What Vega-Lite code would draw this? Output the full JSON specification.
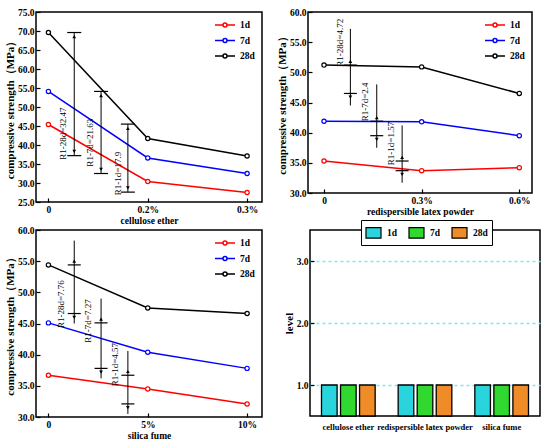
{
  "$schema": "https://vega.github.io/schema/vega-lite/v6.json",
  "background": "white",
  "padding": {"left": 3, "top": 0, "right": 4, "bottom": 0},
  "config": {
    "font": "'Liberation Serif', 'Times New Roman', serif",
    "view": {"stroke": "black", "strokeWidth": 1.5},
    "axis": {
      "labelFont": "'Liberation Serif', 'Times New Roman', serif", "labelFontWeight": "bold", "labelFontSize": 9.5, "labelColor": "black",
      "titleFont": "'Liberation Serif', 'Times New Roman', serif", "titleFontWeight": "bold", "titleFontSize": 9.5, "titleColor": "black",
      "domain": false, "tickColor": "black", "tickSize": -4, "tickWidth": 1.2, "grid": false, "labelPadding": 6, "titlePadding": 2
    },
    "axisY": {"titleFontSize": 11},
    "legend": {"labelFont": "'Liberation Serif', 'Times New Roman', serif", "labelFontWeight": "bold", "labelFontSize": 9.5, "labelColor": "black"}
  },
  "datasets": {
    "lines": [
      {"panel": "ce", "pos": 0, "dosage": "0", "age": "1d", "strength": 45.4},
      {"panel": "ce", "pos": 1, "dosage": "0.2%", "age": "1d", "strength": 30.4},
      {"panel": "ce", "pos": 2, "dosage": "0.3%", "age": "1d", "strength": 27.5},
      {"panel": "ce", "pos": 0, "dosage": "0", "age": "7d", "strength": 54.1},
      {"panel": "ce", "pos": 1, "dosage": "0.2%", "age": "7d", "strength": 36.6},
      {"panel": "ce", "pos": 2, "dosage": "0.3%", "age": "7d", "strength": 32.5},
      {"panel": "ce", "pos": 0, "dosage": "0", "age": "28d", "strength": 69.6},
      {"panel": "ce", "pos": 1, "dosage": "0.2%", "age": "28d", "strength": 41.7},
      {"panel": "ce", "pos": 2, "dosage": "0.3%", "age": "28d", "strength": 37.1},
      {"panel": "rlp", "pos": 0, "dosage": "0", "age": "1d", "strength": 35.3},
      {"panel": "rlp", "pos": 1, "dosage": "0.3%", "age": "1d", "strength": 33.7},
      {"panel": "rlp", "pos": 2, "dosage": "0.6%", "age": "1d", "strength": 34.2},
      {"panel": "rlp", "pos": 0, "dosage": "0", "age": "7d", "strength": 41.9},
      {"panel": "rlp", "pos": 1, "dosage": "0.3%", "age": "7d", "strength": 41.8},
      {"panel": "rlp", "pos": 2, "dosage": "0.6%", "age": "7d", "strength": 39.5},
      {"panel": "rlp", "pos": 0, "dosage": "0", "age": "28d", "strength": 51.2},
      {"panel": "rlp", "pos": 1, "dosage": "0.3%", "age": "28d", "strength": 50.9},
      {"panel": "rlp", "pos": 2, "dosage": "0.6%", "age": "28d", "strength": 46.5},
      {"panel": "sf", "pos": 0, "dosage": "0", "age": "1d", "strength": 36.7},
      {"panel": "sf", "pos": 1, "dosage": "5%", "age": "1d", "strength": 34.5},
      {"panel": "sf", "pos": 2, "dosage": "10%", "age": "1d", "strength": 32.1},
      {"panel": "sf", "pos": 0, "dosage": "0", "age": "7d", "strength": 45.1},
      {"panel": "sf", "pos": 1, "dosage": "5%", "age": "7d", "strength": 40.4},
      {"panel": "sf", "pos": 2, "dosage": "10%", "age": "7d", "strength": 37.8},
      {"panel": "sf", "pos": 0, "dosage": "0", "age": "28d", "strength": 54.4},
      {"panel": "sf", "pos": 1, "dosage": "5%", "age": "28d", "strength": 47.5},
      {"panel": "sf", "pos": 2, "dosage": "10%", "age": "28d", "strength": 46.6}
    ],
    "ranges": [
      {"panel": "ce", "pos": 0.26, "strength": 37.2, "hi": 69.6},
      {"panel": "ce", "pos": 0.53, "strength": 32.5, "hi": 54.1},
      {"panel": "ce", "pos": 0.8, "strength": 27.6, "hi": 45.5},
      {"panel": "rlp", "pos": 0.27, "strength": 44.5, "hi": 57.2},
      {"panel": "rlp", "pos": 0.54, "strength": 37.5, "hi": 48.0},
      {"panel": "rlp", "pos": 0.8, "strength": 31.7, "hi": 41.2},
      {"panel": "sf", "pos": 0.26, "strength": 45.0, "hi": 58.3},
      {"panel": "sf", "pos": 0.53, "strength": 36.2, "hi": 49.0},
      {"panel": "sf", "pos": 0.8, "strength": 30.5, "hi": 40.6}
    ],
    "caps": [
      {"panel": "ce", "pos": 0.26, "strength": 69.6},
      {"panel": "ce", "pos": 0.26, "strength": 37.2},
      {"panel": "ce", "pos": 0.53, "strength": 54.1},
      {"panel": "ce", "pos": 0.53, "strength": 32.5},
      {"panel": "ce", "pos": 0.8, "strength": 45.5},
      {"panel": "ce", "pos": 0.8, "strength": 27.6},
      {"panel": "rlp", "pos": 0.27, "strength": 51.2},
      {"panel": "rlp", "pos": 0.27, "strength": 46.5},
      {"panel": "rlp", "pos": 0.54, "strength": 41.9},
      {"panel": "rlp", "pos": 0.54, "strength": 39.5},
      {"panel": "rlp", "pos": 0.8, "strength": 35.3},
      {"panel": "rlp", "pos": 0.8, "strength": 33.7},
      {"panel": "sf", "pos": 0.26, "strength": 54.4},
      {"panel": "sf", "pos": 0.26, "strength": 46.6},
      {"panel": "sf", "pos": 0.53, "strength": 45.1},
      {"panel": "sf", "pos": 0.53, "strength": 37.8},
      {"panel": "sf", "pos": 0.8, "strength": 36.7},
      {"panel": "sf", "pos": 0.8, "strength": 32.1}
    ],
    "arrows": [
      {"panel": "ce", "pos": 0.26, "strength": 68.5, "dir": "up"},
      {"panel": "ce", "pos": 0.26, "strength": 38.3, "dir": "down"},
      {"panel": "ce", "pos": 0.53, "strength": 53.0, "dir": "up"},
      {"panel": "ce", "pos": 0.53, "strength": 33.6, "dir": "down"},
      {"panel": "ce", "pos": 0.8, "strength": 44.4, "dir": "up"},
      {"panel": "ce", "pos": 0.8, "strength": 28.7, "dir": "down"},
      {"panel": "rlp", "pos": 0.27, "strength": 51.8, "dir": "up"},
      {"panel": "rlp", "pos": 0.27, "strength": 45.9, "dir": "down"},
      {"panel": "rlp", "pos": 0.54, "strength": 42.5, "dir": "up"},
      {"panel": "rlp", "pos": 0.54, "strength": 38.9, "dir": "down"},
      {"panel": "rlp", "pos": 0.8, "strength": 35.9, "dir": "up"},
      {"panel": "rlp", "pos": 0.8, "strength": 33.1, "dir": "down"},
      {"panel": "sf", "pos": 0.26, "strength": 55.0, "dir": "up"},
      {"panel": "sf", "pos": 0.26, "strength": 46.0, "dir": "down"},
      {"panel": "sf", "pos": 0.53, "strength": 45.7, "dir": "up"},
      {"panel": "sf", "pos": 0.53, "strength": 37.2, "dir": "down"},
      {"panel": "sf", "pos": 0.8, "strength": 37.3, "dir": "up"},
      {"panel": "sf", "pos": 0.8, "strength": 31.5, "dir": "down"}
    ],
    "labels": [
      {"panel": "ce", "pos": 0.15, "strength": 43.0, "text": "R1-28d=32.47"},
      {"panel": "ce", "pos": 0.42, "strength": 40.6, "text": "R1-7d=21.63"},
      {"panel": "ce", "pos": 0.7, "strength": 32.5, "text": "R1-1d=17.9"},
      {"panel": "rlp", "pos": 0.16, "strength": 54.9, "text": "R1-28d=4.72"},
      {"panel": "rlp", "pos": 0.42, "strength": 45.1, "text": "R1-7d=2.4"},
      {"panel": "rlp", "pos": 0.69, "strength": 38.2, "text": "R1-1d=1.57"},
      {"panel": "sf", "pos": 0.13, "strength": 48.1, "text": "R1-28d=7.76"},
      {"panel": "sf", "pos": 0.4, "strength": 45.4, "text": "R1-7d=7.27"},
      {"panel": "sf", "pos": 0.67, "strength": 38.4, "text": "R1-1d=4.57"}
    ],
    "bars": [
      {"factor": "cellulose ether", "age": "1d", "level": 1},
      {"factor": "cellulose ether", "age": "7d", "level": 1},
      {"factor": "cellulose ether", "age": "28d", "level": 1},
      {"factor": "redispersible latex powder", "age": "1d", "level": 1},
      {"factor": "redispersible latex powder", "age": "7d", "level": 1},
      {"factor": "redispersible latex powder", "age": "28d", "level": 1},
      {"factor": "silica fume", "age": "1d", "level": 1},
      {"factor": "silica fume", "age": "7d", "level": 1},
      {"factor": "silica fume", "age": "28d", "level": 1}
    ]
  },
  "spacing": -8,
  "resolve": {"scale": {"color": "independent", "fill": "independent"}, "legend": {"color": "independent", "fill": "independent"}},
  "vconcat": [
    {
      "spacing": 12,
      "resolve": {"scale": {"color": "independent"}, "legend": {"color": "independent"}},
      "hconcat": [
        {
          "width": 226, "height": 190,
          "encoding": {
            "x": {"field": "pos", "type": "quantitative", "title": "cellulose ether", "scale": {"domain": [-0.125, 2.15], "nice": false}, "axis": {"values": [0, 1, 2], "labelExpr": "datum.value == 0 ? '0' : datum.value == 1 ? '0.2%' : '0.3%'"}},
            "y": {"field": "strength", "type": "quantitative", "title": "compressive strength（MPa）", "scale": {"domain": [25, 75], "nice": false}, "axis": {"values": [25, 30, 35, 40, 45, 50, 55, 60, 65, 70, 75], "format": ".1f"}}
          },
          "layer": [
            {
              "data": {"name": "lines"}, "transform": [{"filter": "datum.panel == 'ce'"}],
              "mark": {"type": "line", "strokeWidth": 1.5},
              "encoding": {
                "color": {"field": "age", "type": "nominal", "scale": {"domain": ["1d", "7d", "28d"], "range": ["#ff0000", "#0000ff", "#000000"]},
                  "legend": {"orient": "top-right", "offset": 7, "title": null, "symbolType": "M-2,0H-0.4M0.4,0H2M-0.4,0A0.4,0.4,0,1,1,0.4,0A0.4,0.4,0,1,1,-0.4,0", "symbolSize": 100, "symbolStrokeWidth": 1.5, "labelOffset": 9, "rowPadding": 4.5}}
              }
            },
            {
              "data": {"name": "lines"}, "transform": [{"filter": "datum.panel == 'ce'"}],
              "mark": {"type": "point", "shape": "circle", "filled": false, "fill": "white", "size": 18, "strokeWidth": 1.2, "opacity": 1},
              "encoding": {"color": {"field": "age", "type": "nominal", "legend": null}}
            },
            {
              "data": {"name": "ranges"}, "transform": [{"filter": "datum.panel == 'ce'"}],
              "mark": {"type": "rule", "color": "black", "strokeWidth": 1},
              "encoding": {"y2": {"field": "hi"}}
            },
            {
              "data": {"name": "caps"}, "transform": [{"filter": "datum.panel == 'ce'"}],
              "mark": {"type": "tick", "orient": "horizontal", "color": "black", "size": 14, "thickness": 1.2, "opacity": 1}
            },
            {
              "data": {"name": "arrows"}, "transform": [{"filter": "datum.panel == 'ce'"}],
              "mark": {"type": "point", "filled": true, "color": "black", "size": 14, "opacity": 1},
              "encoding": {"shape": {"field": "dir", "type": "nominal", "scale": {"domain": ["up", "down"], "range": ["triangle-up", "triangle-down"]}, "legend": null}}
            },
            {
              "data": {"name": "labels"}, "transform": [{"filter": "datum.panel == 'ce'"}],
              "mark": {"type": "text", "angle": 270, "fontSize": 9, "color": "black", "align": "center", "baseline": "middle"},
              "encoding": {"text": {"field": "text"}}
            }
          ]
        },
        {
          "width": 224, "height": 181,
          "title": {"text": " ", "fontSize": 6, "offset": 0},
          "encoding": {
            "x": {"field": "pos", "type": "quantitative", "title": "redispersible latex powder", "scale": {"domain": [-0.164, 2.13], "nice": false}, "axis": {"values": [0, 1, 2], "labelExpr": "datum.value == 0 ? '0' : datum.value == 1 ? '0.3%' : '0.6%'"}},
            "y": {"field": "strength", "type": "quantitative", "title": "compressive strength（MPa）", "scale": {"domain": [30, 60], "nice": false}, "axis": {"values": [30, 35, 40, 45, 50, 55, 60], "format": ".1f"}}
          },
          "layer": [
            {
              "data": {"name": "lines"}, "transform": [{"filter": "datum.panel == 'rlp'"}],
              "mark": {"type": "line", "strokeWidth": 1.5},
              "encoding": {
                "color": {"field": "age", "type": "nominal", "scale": {"domain": ["1d", "7d", "28d"], "range": ["#ff0000", "#0000ff", "#000000"]},
                  "legend": {"orient": "top-right", "offset": 7, "title": null, "symbolType": "M-2,0H-0.4M0.4,0H2M-0.4,0A0.4,0.4,0,1,1,0.4,0A0.4,0.4,0,1,1,-0.4,0", "symbolSize": 100, "symbolStrokeWidth": 1.5, "labelOffset": 9, "rowPadding": 4.5}}
              }
            },
            {
              "data": {"name": "lines"}, "transform": [{"filter": "datum.panel == 'rlp'"}],
              "mark": {"type": "point", "shape": "circle", "filled": false, "fill": "white", "size": 18, "strokeWidth": 1.2, "opacity": 1},
              "encoding": {"color": {"field": "age", "type": "nominal", "legend": null}}
            },
            {
              "data": {"name": "ranges"}, "transform": [{"filter": "datum.panel == 'rlp'"}],
              "mark": {"type": "rule", "color": "black", "strokeWidth": 1},
              "encoding": {"y2": {"field": "hi"}}
            },
            {
              "data": {"name": "caps"}, "transform": [{"filter": "datum.panel == 'rlp'"}],
              "mark": {"type": "tick", "orient": "horizontal", "color": "black", "size": 13, "thickness": 1.2, "opacity": 1}
            },
            {
              "data": {"name": "arrows"}, "transform": [{"filter": "datum.panel == 'rlp'"}],
              "mark": {"type": "point", "filled": true, "color": "black", "size": 14, "opacity": 1},
              "encoding": {"shape": {"field": "dir", "type": "nominal", "scale": {"domain": ["up", "down"], "range": ["triangle-up", "triangle-down"]}, "legend": null}}
            },
            {
              "data": {"name": "labels"}, "transform": [{"filter": "datum.panel == 'rlp'"}],
              "mark": {"type": "text", "angle": 270, "fontSize": 9, "color": "black", "align": "center", "baseline": "middle"},
              "encoding": {"text": {"field": "text"}}
            }
          ]
        }
      ]
    },
    {
      "spacing": 19,
      "resolve": {"scale": {"color": "independent", "fill": "independent"}, "legend": {"color": "independent", "fill": "independent"}},
      "hconcat": [
        {
          "width": 226, "height": 187,
          "encoding": {
            "x": {"field": "pos", "type": "quantitative", "title": "silica fume", "scale": {"domain": [-0.125, 2.15], "nice": false}, "axis": {"values": [0, 1, 2], "labelExpr": "datum.value == 0 ? '0' : datum.value == 1 ? '5%' : '10%'"}},
            "y": {"field": "strength", "type": "quantitative", "title": "compressive strength（MPa）", "scale": {"domain": [30, 60], "nice": false}, "axis": {"values": [30, 35, 40, 45, 50, 55, 60], "format": ".1f"}}
          },
          "layer": [
            {
              "data": {"name": "lines"}, "transform": [{"filter": "datum.panel == 'sf'"}],
              "mark": {"type": "line", "strokeWidth": 1.5},
              "encoding": {
                "color": {"field": "age", "type": "nominal", "scale": {"domain": ["1d", "7d", "28d"], "range": ["#ff0000", "#0000ff", "#000000"]},
                  "legend": {"orient": "top-right", "offset": 7, "title": null, "symbolType": "M-2,0H-0.4M0.4,0H2M-0.4,0A0.4,0.4,0,1,1,0.4,0A0.4,0.4,0,1,1,-0.4,0", "symbolSize": 100, "symbolStrokeWidth": 1.5, "labelOffset": 9, "rowPadding": 4.5}}
              }
            },
            {
              "data": {"name": "lines"}, "transform": [{"filter": "datum.panel == 'sf'"}],
              "mark": {"type": "point", "shape": "circle", "filled": false, "fill": "white", "size": 18, "strokeWidth": 1.2, "opacity": 1},
              "encoding": {"color": {"field": "age", "type": "nominal", "legend": null}}
            },
            {
              "data": {"name": "ranges"}, "transform": [{"filter": "datum.panel == 'sf'"}],
              "mark": {"type": "rule", "color": "black", "strokeWidth": 1},
              "encoding": {"y2": {"field": "hi"}}
            },
            {
              "data": {"name": "caps"}, "transform": [{"filter": "datum.panel == 'sf'"}],
              "mark": {"type": "tick", "orient": "horizontal", "color": "black", "size": 13, "thickness": 1.2, "opacity": 1}
            },
            {
              "data": {"name": "arrows"}, "transform": [{"filter": "datum.panel == 'sf'"}],
              "mark": {"type": "point", "filled": true, "color": "black", "size": 14, "opacity": 1},
              "encoding": {"shape": {"field": "dir", "type": "nominal", "scale": {"domain": ["up", "down"], "range": ["triangle-up", "triangle-down"]}, "legend": null}}
            },
            {
              "data": {"name": "labels"}, "transform": [{"filter": "datum.panel == 'sf'"}],
              "mark": {"type": "text", "angle": 270, "fontSize": 9, "color": "black", "align": "center", "baseline": "middle"},
              "encoding": {"text": {"field": "text"}}
            }
          ]
        },
        {
          "width": 230, "height": 186,
          "data": {"name": "bars"},
          "mark": {"type": "bar", "stroke": "black", "strokeWidth": 1.3},
          "encoding": {
            "x": {"field": "factor", "type": "nominal", "sort": ["cellulose ether", "redispersible latex powder", "silica fume"], "scale": {"paddingInner": 0.3, "paddingOuter": 0.15},
              "axis": {"title": null, "labelAngle": 0, "ticks": false, "labelPadding": 6, "labelOverlap": false, "labelLimit": 0, "labelFontSize": 8.5}},
            "xOffset": {"field": "age", "type": "nominal", "sort": ["1d", "7d", "28d"], "scale": {"paddingInner": 0.18, "paddingOuter": 0}},
            "y": {"field": "level", "type": "quantitative", "scale": {"domain": [0.5, 3.5], "nice": false, "zero": false},
              "axis": {"values": [1, 2, 3], "format": ".1f", "title": "level", "grid": true, "gridColor": "#7ee8f2", "gridDash": [3, 3], "gridWidth": 1.5}},
            "y2": {"datum": 0.5},
            "fill": {"field": "age", "type": "nominal", "scale": {"domain": ["1d", "7d", "28d"], "range": ["#2ad4dc", "#30d830", "#f08c28"]},
              "legend": {"orient": "none", "legendX": 51, "legendY": -10, "direction": "horizontal", "title": null, "strokeColor": "black", "fillColor": "white", "padding": 4,
                "symbolType": "M-1,-0.7H1V0.7H-1Z", "symbolSize": 225, "symbolStrokeColor": "black", "symbolStrokeWidth": 1.2, "columnPadding": 8, "labelOffset": 5}}
          }
        }
      ]
    }
  ]
}
